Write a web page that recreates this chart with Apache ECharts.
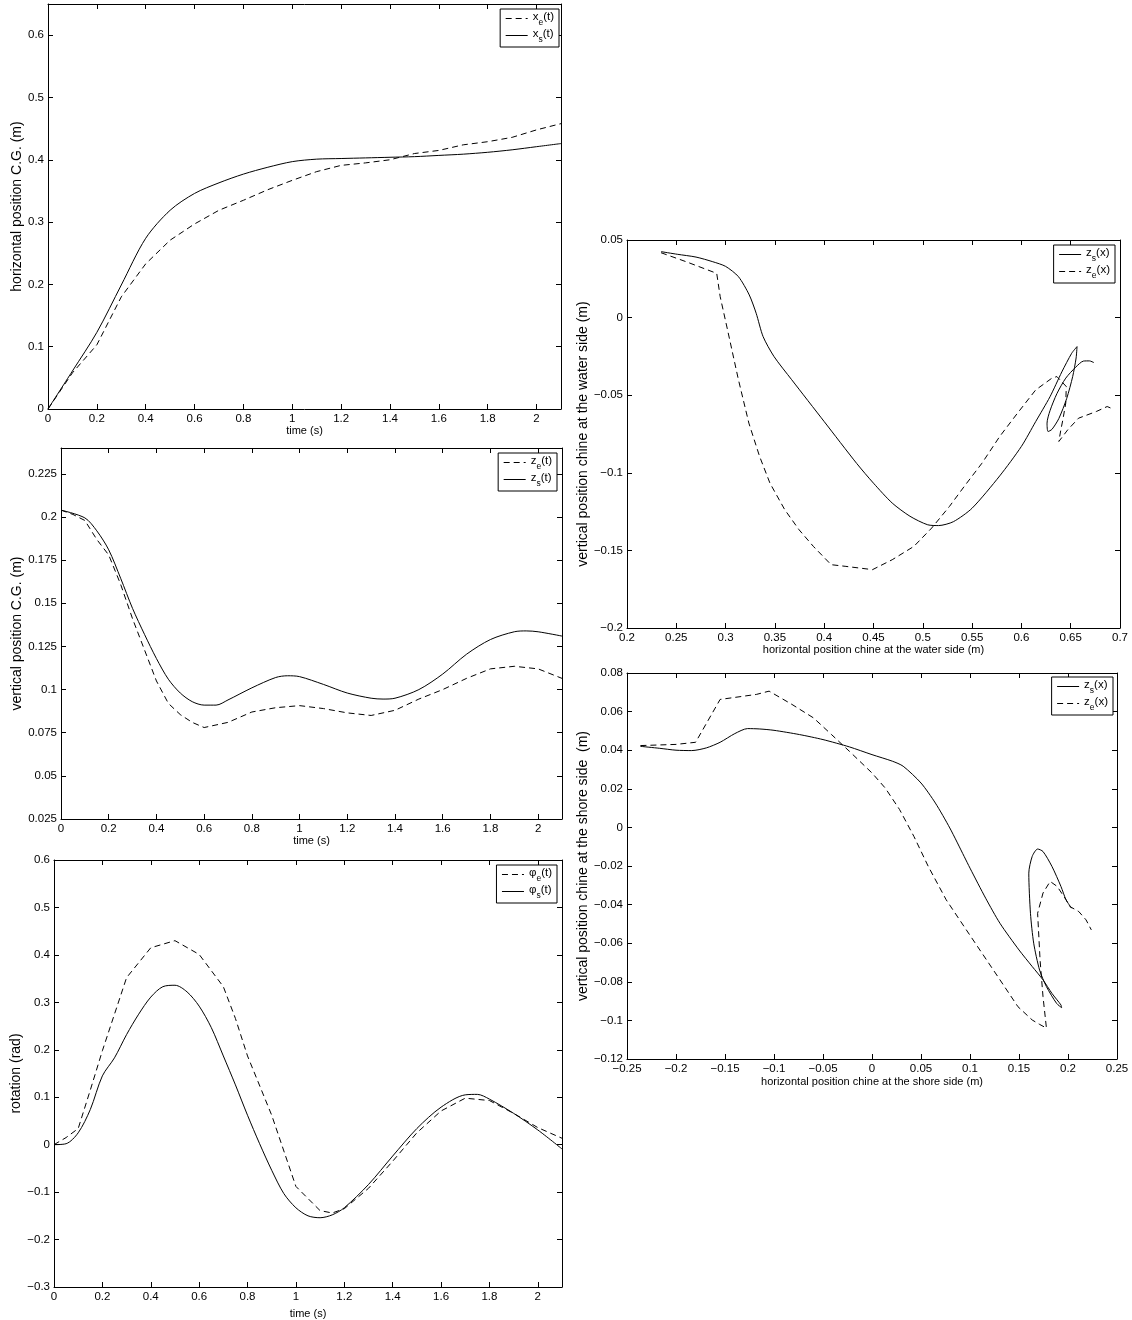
<!DOCTYPE html>
<html><head><meta charset="utf-8">
<script src="https://cdn.jsdelivr.net/npm/echarts@6/dist/echarts.min.js"></script>
<style>html,body{margin:0;padding:0;background:#fff}#c{width:1132px;height:1320px}</style>
</head><body><div id="c"></div>
<script>
// ---------- DATA ----------
// Panel 1: horizontal position C.G.
const p1_t  = [0,0.1,0.2,0.3,0.4,0.5,0.6,0.7,0.8,0.9,1.0,1.1,1.2,1.3,1.4,1.5,1.6,1.7,1.8,1.9,2.0,2.1];
const p1_xe = [0,0.058,0.103,0.18,0.233,0.271,0.297,0.319,0.335,0.352,0.367,0.381,0.391,0.395,0.400,0.410,0.415,0.424,0.429,0.436,0.448,0.458];
const p1_xs = [0,0.061,0.123,0.199,0.274,0.319,0.346,0.363,0.377,0.388,0.397,0.401,0.402,0.403,0.404,0.405,0.407,0.409,0.412,0.416,0.421,0.426];

// Panel 2: vertical position C.G.
const p2_ts = [0,0.1,0.15,0.2,0.25,0.3,0.35,0.4,0.45,0.5,0.55,0.6,0.65,0.7,0.8,0.9,0.95,1.0,1.1,1.2,1.3,1.35,1.4,1.5,1.6,1.7,1.8,1.9,1.95,2.0,2.1];
const p2_zs = [0.204,0.1995,0.192,0.181,0.1645,0.147,0.132,0.118,0.106,0.098,0.093,0.091,0.091,0.094,0.101,0.107,0.108,0.1075,0.103,0.098,0.095,0.0945,0.095,0.1,0.109,0.1205,0.129,0.1335,0.134,0.1335,0.131];
const p2_te = [0,0.05,0.1,0.15,0.2,0.25,0.3,0.35,0.4,0.45,0.5,0.55,0.6,0.7,0.8,0.9,1.0,1.1,1.2,1.3,1.4,1.5,1.6,1.7,1.8,1.9,2.0,2.1];
const p2_ze = [0.204,0.2015,0.198,0.187,0.178,0.161,0.141,0.123,0.105,0.092,0.0855,0.081,0.078,0.081,0.087,0.0895,0.0907,0.089,0.0865,0.085,0.088,0.0945,0.1,0.1065,0.112,0.1135,0.112,0.1065];

// Panel 3: rotation
const p3_ts = [0,0.05,0.1,0.15,0.2,0.25,0.3,0.35,0.4,0.45,0.5,0.55,0.6,0.65,0.7,0.75,0.8,0.85,0.9,0.95,1.0,1.05,1.1,1.15,1.2,1.3,1.4,1.5,1.6,1.7,1.75,1.8,1.9,2.0,2.1];
const p3_ps = [0,0.002,0.025,0.074,0.145,0.183,0.232,0.275,0.311,0.333,0.336,0.322,0.292,0.247,0.187,0.126,0.062,0.002,-0.054,-0.103,-0.133,-0.150,-0.154,-0.148,-0.133,-0.084,-0.024,0.034,0.079,0.105,0.106,0.096,0.066,0.031,-0.009];
const p3_te = [0,0.05,0.1,0.15,0.2,0.3,0.4,0.5,0.6,0.7,0.75,0.8,0.9,1.0,1.1,1.15,1.2,1.3,1.4,1.5,1.6,1.7,1.8,1.9,2.0,2.1];
const p3_pe = [0,0.015,0.034,0.115,0.198,0.352,0.415,0.43,0.401,0.333,0.266,0.187,0.062,-0.088,-0.139,-0.144,-0.135,-0.092,-0.035,0.025,0.071,0.098,0.093,0.066,0.036,0.0135];

// Panel 4: chine at the water side
const p4_zs_x = [0.2345,0.251,0.27,0.287,0.30,0.313,0.324,0.331,0.338,0.349,0.367,0.40,0.433,0.45,0.469,0.487,0.505,0.516,0.531,0.55,0.578,0.60,0.6145,0.629,0.641,0.651,0.6564,0.6555,0.652,0.646,0.638,0.631,0.627,0.626,0.629,0.636,0.645,0.655,0.663,0.669,0.6735];
const p4_zs_z = [0.0425,0.0408,0.039,0.036,0.033,0.0264,0.0146,0.0028,-0.0122,-0.025,-0.040,-0.067,-0.094,-0.1067,-0.1195,-0.128,-0.1335,-0.134,-0.1315,-0.1228,-0.102,-0.083,-0.067,-0.051,-0.035,-0.023,-0.0187,-0.026,-0.038,-0.052,-0.065,-0.072,-0.0734,-0.068,-0.060,-0.049,-0.039,-0.032,-0.028,-0.0279,-0.029];
const p4_ze_x = [0.2345,0.26,0.291,0.2945,0.302,0.313,0.3236,0.3345,0.345,0.36,0.3745,0.389,0.407,0.422,0.449,0.469,0.491,0.509,0.527,0.542,0.56,0.578,0.596,0.6145,0.631,0.636,0.6455,0.645,0.642,0.640,0.638,0.647,0.658,0.676,0.687,0.691];
const p4_ze_z = [0.0418,0.036,0.0285,0.0135,-0.008,-0.040,-0.068,-0.0895,-0.1067,-0.1238,-0.1367,-0.1474,-0.1592,-0.1603,-0.1624,-0.156,-0.1474,-0.1356,-0.1217,-0.1088,-0.0938,-0.0766,-0.0616,-0.0466,-0.039,-0.038,-0.0444,-0.055,-0.066,-0.0723,-0.0798,-0.0723,-0.0648,-0.0605,-0.0573,-0.0584];

// Panel 5: chine at the shore side
const p5_zs_x = [-0.2363,-0.217,-0.2,-0.184,-0.169,-0.155,-0.14,-0.127,-0.1145,-0.1,-0.074,-0.05,-0.023,0,0.0208,0.0318,0.05,0.0647,0.0794,0.094,0.1,0.116,0.1306,0.15,0.1635,0.1745,0.1836,0.1928,0.1935,0.1884,0.178,0.171,0.165,0.1617,0.16,0.1635,0.169,0.1745,0.1836,0.1928,0.198,0.2037];
const p5_zs_z = [0.042,0.041,0.040,0.0398,0.0412,0.0441,0.0486,0.0512,0.051,0.0503,0.0481,0.0455,0.0417,0.0377,0.0343,0.0317,0.023,0.0126,-0.0003,-0.015,-0.0211,-0.0367,-0.0497,-0.0635,-0.0721,-0.079,-0.086,-0.092,-0.0934,-0.0912,-0.0825,-0.0739,-0.06,-0.0445,-0.0237,-0.015,-0.0112,-0.0125,-0.0202,-0.0306,-0.0375,-0.0419];
const p5_ze_x = [-0.2363,-0.2,-0.18,-0.155,-0.118,-0.105,-0.0816,-0.0596,-0.0413,-0.023,0,0.0135,0.0282,0.0428,0.0574,0.0757,0.094,0.1123,0.1306,0.1489,0.1635,0.1708,0.178,0.1745,0.1715,0.169,0.1745,0.1818,0.189,0.198,0.2019,0.211,0.2184,0.2238];
const p5_ze_z = [0.0424,0.043,0.0441,0.0663,0.0689,0.0706,0.0637,0.0567,0.0481,0.0394,0.0282,0.0204,0.0092,-0.0047,-0.0202,-0.0375,-0.0514,-0.0652,-0.079,-0.0929,-0.0998,-0.102,-0.104,-0.0877,-0.0687,-0.0445,-0.034,-0.028,-0.0306,-0.0375,-0.041,-0.0436,-0.0479,-0.0531];

// Axis texts
const xNames = ['time (s)','time (s)','time (s)','horizontal position chine at the water side (m)','horizontal position chine at the shore side (m)'];
const yNames = ['horizontal position C.G. (m)','vertical position C.G. (m)','rotation (rad)','vertical position chine at the water side (m)','vertical position chine at the shore side  (m)'];
const legendLabels = {
  xe:['x','e','(t)'], xs:['x','s','(t)'],
  ze:['z','e','(t)'], zs:['z','s','(t)'],
  pe:['\u03c6','e','(t)'], ps:['\u03c6','s','(t)'],
  wzs:['z','s','(x)'], wze:['z','e','(x)'],
  szs:['z','s','(x)'], sze:['z','e','(x)']
};

// ---------- LAYOUT / STYLE ----------
const FONT = '"Liberation Sans", Arial, Helvetica, sans-serif';
const W = 1132;
const panels = [
  {grid:{left:48, top:4,   width:513, height:405}, x:[0,2.1,0.2],     y:[0,0.65,0.1],     xGap:14, yGap:24},
  {grid:{left:61, top:448, width:501, height:371}, x:[0,2.1,0.2],     y:[0.025,0.24,0.025], xGap:9, yGap:37},
  {grid:{left:54, top:860, width:508, height:427}, x:[0,2.1,0.2],     y:[-0.3,0.6,0.1],   xGap:21, yGap:31},
  {grid:{left:627,top:240, width:493, height:388}, x:[0.2,0.7,0.05],  y:[-0.2,0.05,0.05], xGap:12, yGap:34},
  {grid:{left:627,top:673, width:490, height:386}, x:[-0.25,0.25,0.05], y:[-0.12,0.08,0.02], xGap:17, yGap:34}
];
const legendPos = [
  {right:W-559, top:9,   data:['xe','xs']},
  {right:W-557, top:453, data:['ze','zs']},
  {right:W-557, top:865, data:['pe','ps']},
  {right:W-1115,top:245, data:['wzs','wze']},
  {right:W-1113,top:677, data:['szs','sze']}
];

function fmt(v){ const s = String(Math.round(v*100000)/100000); return s.replace('-', '\u2212'); }
function onTick(v, min, int){ const k=(v-min)/int; return Math.abs(k-Math.round(k))<1e-6; }

const grid=[], xAxis=[], yAxis=[];
const lineCol = '#000';
panels.forEach((p,i)=>{
  grid.push(Object.assign({containLabel:false}, p.grid));
  const base = (type, ext, main, name, gap, pos) => ({
    type:'value', gridIndex:i, min:ext[0], max:ext[1], interval:ext[2], position:pos,
    name: main ? name : '', nameLocation:'middle', nameGap:gap,
    nameRotate: (type==='y') ? 90 : 0,
    nameTextStyle:{fontFamily:FONT, fontSize:(type==='y') ? 14 : 11, color:'#000'},
    axisLine:{show:true, onZero:false, lineStyle:{color:lineCol, width:1}},
    axisTick:{show:true, inside:true, length:5, lineStyle:{color:lineCol, width:1}},
    splitLine:{show:false},
    axisLabel:{show:main, fontFamily:FONT, fontSize:11.5, color:'#000', margin:4,
      formatter:(v)=> onTick(v, ext[0], ext[2]) ? fmt(v) : ''}
  });
  xAxis.push(base('x', p.x, true, xNames[i], p.xGap, 'bottom'));
  xAxis.push(base('x', p.x, false, '', 0, 'top'));
  yAxis.push(base('y', p.y, true, yNames[i], p.yGap, 'left'));
  yAxis.push(base('y', p.y, false, '', 0, 'right'));
});

function zip(a,b){ return a.map((v,k)=>[v,b[k]]); }
const dashed = [6,4];
function ser(name, panel, data, dash, smooth){
  return {type:'line', name, xAxisIndex:2*panel, yAxisIndex:2*panel, data,
    symbol:'none', smooth: smooth, animation:false, clip:true,
    lineStyle:{color:'#000', width:1, type: dash ? dashed : 'solid'},
    itemStyle:{color:'#000'}};
}
const series = [
  ser('xe',0,zip(p1_t,p1_xe),true,false),
  ser('xs',0,zip(p1_t,p1_xs),false,0.3),
  ser('ze',1,zip(p2_te,p2_ze),true,false),
  ser('zs',1,zip(p2_ts,p2_zs),false,0.3),
  ser('pe',2,zip(p3_te,p3_pe),true,false),
  ser('ps',2,zip(p3_ts,p3_ps),false,0.3),
  ser('wzs',3,zip(p4_zs_x,p4_zs_z),false,0.25),
  ser('wze',3,zip(p4_ze_x,p4_ze_z),true,false),
  ser('szs',4,zip(p5_zs_x,p5_zs_z),false,0.25),
  ser('sze',4,zip(p5_ze_x,p5_ze_z),true,false)
];

const legend = legendPos.map(l=>({
  show:true, data:l.data, right:l.right, top:l.top, orient:'vertical',
  backgroundColor:'#fff', borderColor:'#000', borderWidth:1, borderRadius:0,
  padding:[2,5,3,5], itemGap:1, itemWidth:22, itemHeight:10, selectedMode:false,
  itemStyle:{opacity:0},
  lineStyle:{width:1, color:'#000'},
  textStyle:{fontFamily:FONT, fontSize:11.5, color:'#000',
    rich:{ b:{fontFamily:FONT, fontSize:11.5, color:'#000', lineHeight:17, verticalAlign:'bottom', padding:[0,0,4,0]},
           s:{fontFamily:FONT, fontSize:8.5, color:'#000', lineHeight:17, verticalAlign:'bottom'} }},
  formatter:(n)=>{ const t=legendLabels[n]; return '{b|'+t[0]+'}{s|'+t[1]+'}{b|'+t[2]+'}'; }
}));

const chart = echarts.init(document.getElementById('c'), null, {renderer:'canvas'});
chart.setOption({backgroundColor:'#fff', animation:false, grid, xAxis, yAxis, legend, series});
</script></body></html>
